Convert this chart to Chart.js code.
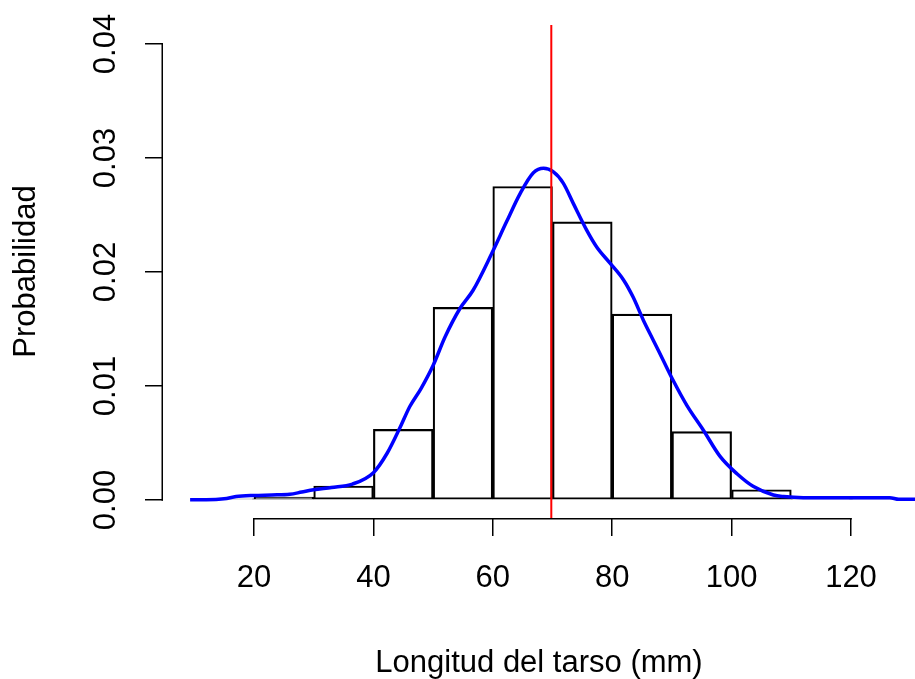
<!DOCTYPE html>
<html>
<head>
<meta charset="utf-8">
<script src="https://cdn.jsdelivr.net/npm/chart.js@4.4.1/dist/chart.umd.min.js"></script>
<style>
  html, body { margin: 0; padding: 0; background: #ffffff; }
  #wrap { width: 915px; height: 679px; }
</style>
</head>
<body>
<div id="wrap"><canvas id="c" width="915" height="679"></canvas></div>
<script>
// ---- data ----
const binEdges = [10, 20, 30, 40, 50, 60, 70, 80, 90, 100, 110, 120, 130];
const binDensity = [0.0001, 0.00026, 0.00123, 0.0062, 0.0169, 0.0275, 0.0244, 0.0163, 0.0060, 0.0009, 0.0001, 0.0001];

const densX = [9.3, 12, 15, 17, 20, 23, 26, 28, 30, 33, 36.5, 40, 42.3, 44.5, 46.1, 48, 50, 52, 54.5, 56.7, 59.8, 62.3, 64.6, 66.8, 68.5, 70.1, 71.8, 73.5, 75.7, 77.4, 79.6, 81.9, 83.5, 85.2, 86.9, 88.5, 90.2, 92.5, 95.3, 98.1, 100.9, 103.6, 107, 108.7, 112, 116, 120, 126.5, 128, 131];
const densY = [0.00002, 0.00002, 0.0001, 0.0003, 0.0004, 0.00044, 0.0005, 0.0007, 0.0009, 0.0011, 0.0014, 0.0024, 0.0041, 0.0064, 0.0082, 0.0098, 0.0118, 0.0143, 0.0168, 0.0184, 0.0216, 0.0244, 0.0269, 0.0287, 0.0291, 0.0288, 0.0278, 0.0260, 0.0237, 0.0222, 0.0208, 0.0193, 0.0178, 0.0158, 0.0140, 0.0123, 0.0105, 0.0083, 0.0061, 0.0038, 0.0023, 0.0012, 0.00044, 0.0003, 0.0002, 0.0002, 0.0002, 0.0002, 0.00006, 0.00006];

const meanValue = 69.8;

const xTicks = [20, 40, 60, 80, 100, 120];
const yTicks = [0, 0.01, 0.02, 0.03, 0.04];
const yTickLabels = ['0.00', '0.01', '0.02', '0.03', '0.04'];

const xTitle = 'Longitud del tarso (mm)';
const yTitle = 'Probabilidad';

// ---- derived structures for the library ----
const barData = binDensity.map((d, i) => ({ x: (binEdges[i] + binEdges[i + 1]) / 2, y: d }));
const densData = densX.map((x, i) => ({ x: x, y: densY[i] }));

const X_MIN = 4.76, X_MAX = 130.72;
const Y_MIN = -0.00158, Y_MAX = 0.04167;

const FONT = { family: "'Liberation Sans', Arial, sans-serif", size: 31 };

const axisLines = {
  id: 'axisLines',
  afterDraw(chart) {
    const { ctx, scales, chartArea } = chart;
    const x = scales.x, y = scales.y;
    ctx.save();
    ctx.strokeStyle = '#000';
    ctx.lineWidth = 1.5;
    ctx.lineCap = 'butt';
    const yb = chartArea.bottom + 0.75;
    ctx.beginPath();
    ctx.moveTo(x.getPixelForValue(xTicks[0]) - 0.75, yb);
    ctx.lineTo(x.getPixelForValue(xTicks[xTicks.length - 1]) + 0.75, yb);
    ctx.stroke();
    const xl = chartArea.left - 0.75;
    ctx.beginPath();
    ctx.moveTo(xl, y.getPixelForValue(yTicks[0]) + 0.75);
    ctx.lineTo(xl, y.getPixelForValue(yTicks[yTicks.length - 1]) - 0.75);
    ctx.stroke();
    ctx.restore();
  }
};

Chart.defaults.color = '#000';
Chart.defaults.font.family = FONT.family;

new Chart(document.getElementById('c'), {
  type: 'bar',
  data: {
    datasets: [
      {
        type: 'bar',
        data: barData,
        backgroundColor: 'rgba(255,255,255,0)',
        borderColor: '#000',
        borderWidth: 1.5,
        borderSkipped: false,
        barPercentage: 1.0,
        categoryPercentage: 1.0,
        order: 3
      },
      {
        type: 'line',
        data: densData,
        borderColor: '#0000ff',
        borderWidth: 3.5,
        pointRadius: 0,
        fill: false,
        cubicInterpolationMode: 'monotone',
        order: 2
      },
      {
        type: 'line',
        data: [{ x: meanValue, y: Y_MIN }, { x: meanValue, y: Y_MAX }],
        borderColor: '#ff0000',
        borderWidth: 2,
        pointRadius: 0,
        fill: false,
        order: 1
      }
    ]
  },
  options: {
    responsive: false,
    animation: false,
    events: [],
    layout: { autoPadding: false, padding: { top: 25, right: 0, left: 0, bottom: 0 } },
    plugins: { legend: { display: false }, tooltip: { enabled: false }, title: { display: false } },
    scales: {
      x: {
        type: 'linear',
        min: X_MIN,
        max: X_MAX,
        offset: false,
        afterBuildTicks(scale) { scale.ticks = xTicks.map(v => ({ value: v })); },
        afterFit(scale) {
          scale.height = 161;
          scale.paddingLeft = 0; scale.paddingRight = 0; scale.paddingTop = 0; scale.paddingBottom = 0;
        },
        grid: { display: true, drawOnChartArea: false, drawTicks: true, tickLength: 18, color: '#000', lineWidth: 1.5, offset: false },
        border: { display: false },
        ticks: {
          autoSkip: false, maxRotation: 0, minRotation: 0, padding: 24,
          font: FONT, color: '#000',
          callback: (v) => String(v)
        },
        title: { display: true, text: xTitle, font: FONT, color: '#000', padding: { top: 0, bottom: -3 } }
      },
      y: {
        type: 'linear',
        min: Y_MIN,
        max: Y_MAX,
        afterBuildTicks(scale) { scale.ticks = yTicks.map(v => ({ value: v })); },
        afterFit(scale) {
          scale.width = 163;
          scale.paddingLeft = 0; scale.paddingRight = 0; scale.paddingTop = 0; scale.paddingBottom = 0;
        },
        grid: { display: true, drawOnChartArea: false, drawTicks: true, tickLength: 18, color: '#000', lineWidth: 1.5 },
        border: { display: false },
        ticks: {
          autoSkip: false, minRotation: 90, maxRotation: 90, padding: 8, crossAlign: 'center',
          font: FONT, color: '#000',
          callback: (v) => { const i = yTicks.indexOf(v); return i >= 0 ? yTickLabels[i] : ''; }
        },
        title: { display: true, text: yTitle, font: FONT, color: '#000', padding: { top: 8, bottom: 0 } }
      }
    }
  },
  plugins: [axisLines]
});
</script>
</body>
</html>
